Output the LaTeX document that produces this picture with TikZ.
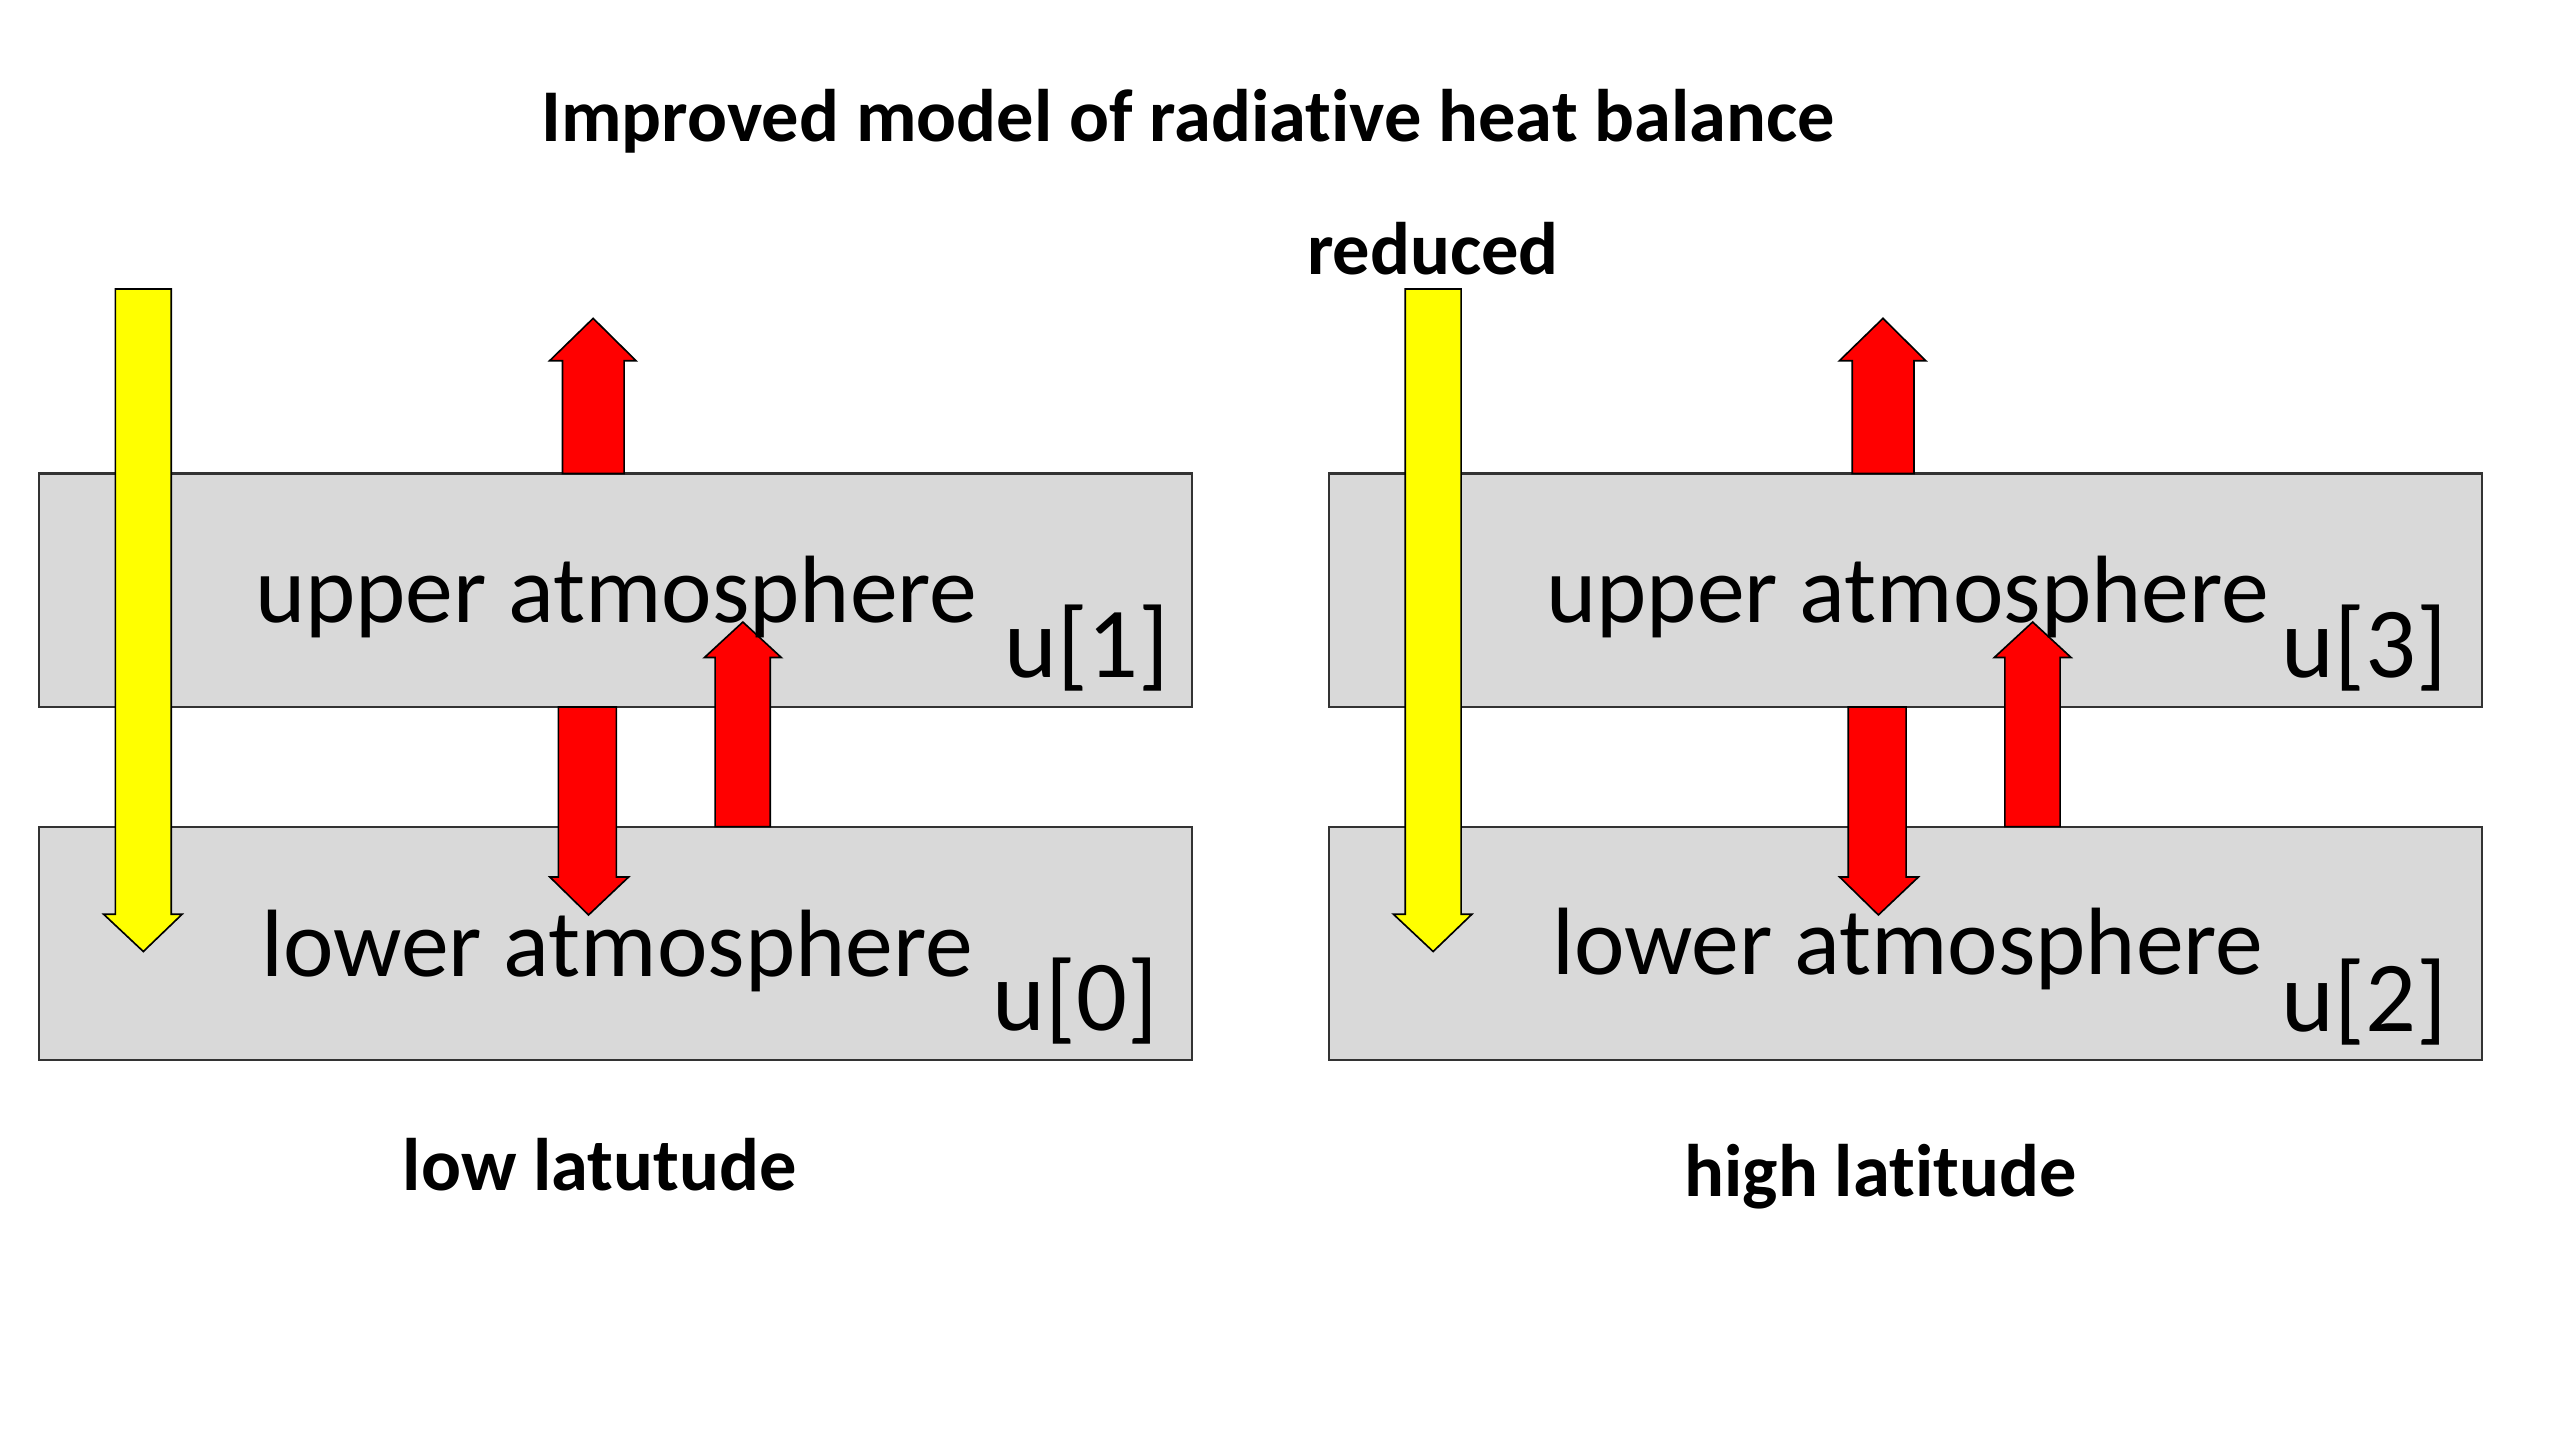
\documentclass[tikz,border=0pt]{standalone}
\usepackage{fontspec}
\setmainfont[Ligatures=NoCommon]{Carlito}
\definecolor{boxgray}{HTML}{D9D9D9}
\definecolor{sunyellow}{HTML}{FFFF00}
\definecolor{heatred}{HTML}{FF0000}
\begin{document}
\begin{tikzpicture}[x=1pt,y=-1pt,
  layer/.style={draw=black!80, line width=1.3pt, fill=boxgray, minimum width=706pt, minimum height=143pt, inner sep=0pt},
  sunarrow/.style={draw=black, line width=1pt, fill=sunyellow, line join=miter},
  heatarrow/.style={draw=black, line width=1pt, fill=heatred, line join=miter},
  big/.style={font=\fontsize{58.6}{70}\selectfont, inner sep=0pt, anchor=base west},
  idx/.style={font=\fontsize{61.5}{72}\selectfont, inner sep=0pt, anchor=base west},
  caption/.style={font=\bfseries\fontsize{45.6}{54}\selectfont, inner sep=0pt, anchor=base west}]
\useasboundingbox[fill=white] (0,0) rectangle (1568,882);

% layers
\node[layer] (ul) at (377,361.5) {};
\node[layer] (ll) at (377,578) {};
\node[layer] (ur) at (1167,361.5) {};
\node[layer] (lr) at (1167,578) {};

% arrows
\foreach \dx in {0,790} {
\begin{scope}[xshift=\dx pt]
  \filldraw[sunarrow] (70.7,177) -- (104.9,177) -- (104.9,560) -- (111.5,560) -- (87.8,582.8) -- (63.5,560) -- (70.7,560) -- cycle;
  \filldraw[heatarrow] (344.5,290) -- (344.5,221) -- (336.6,221) -- (363.3,195) -- (389.6,221) -- (382.3,221) -- (382.3,290) -- cycle;
  \filldraw[heatarrow] (342,433) -- (377.5,433) -- (377.5,537.2) -- (385,537.2) -- (360.5,560.4) -- (336.8,537.2) -- (342,537.2) -- cycle;
  \filldraw[heatarrow] (438,506.3) -- (438,402.7) -- (431.5,402.7) -- (455,381) -- (478.5,402.7) -- (471.8,402.7) -- (471.8,506.3) -- cycle;
\end{scope}
}

% texts
\node[big] (tul) at (156,381) {upper atmosphere};
\node[idx] (iul) at (615,415) {u[1]};
\node[big] (tll) at (160,598) {lower atmosphere};
\node[idx] (ill) at (608,631) {u[0]};
\node[big] (tur) at (947,381) {upper atmosphere};
\node[idx] (iur) at (1397.5,415) {u[3]};
\node[big] (tlr) at (950.5,597) {lower atmosphere};
\node[idx] (ilr) at (1397.5,631.5) {u[2]};

\node[caption] (title) at (331.5,86.7) {Improved model of radiative heat balance};
\node[caption] (red) at (800.5,168) {reduced};
\node[caption] (low) at (246.5,729) {low latutude};
\node[caption] (high) at (1031.5,733) {high latitude};
\end{tikzpicture}
\end{document}
